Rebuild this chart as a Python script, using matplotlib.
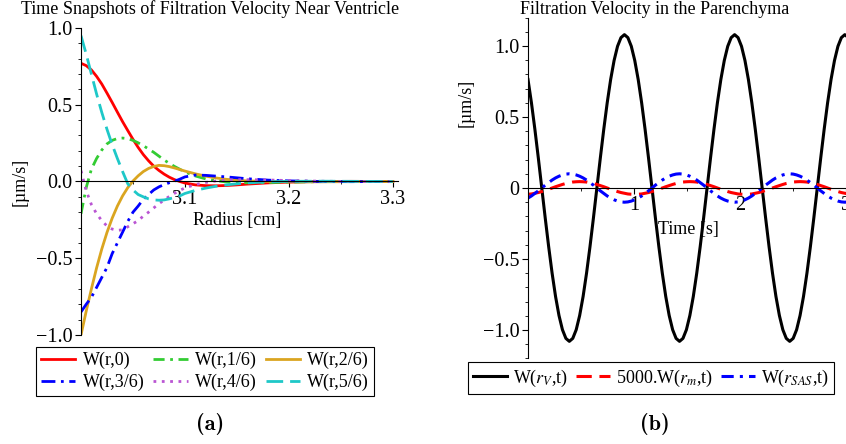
import numpy as np
import matplotlib
matplotlib.use('Agg')
import matplotlib.pyplot as plt
from matplotlib.ticker import MultipleLocator

plt.rcParams['font.family'] = 'Liberation Serif'
plt.rcParams['mathtext.fontset'] = 'stix'

# ---- (a) snapshots near the ventricle, W(r, t) ----
radius = [3.000, 3.005, 3.010, 3.015, 3.020, 3.025, 3.030, 3.035, 3.040, 3.045,
          3.050, 3.055, 3.060, 3.065, 3.070, 3.075, 3.080, 3.085, 3.090, 3.095,
          3.100, 3.110, 3.120, 3.130, 3.140, 3.150, 3.160, 3.180, 3.200, 3.230,
          3.260, 3.300]
w_0 = [0.770, 0.755, 0.727, 0.685, 0.635, 0.576, 0.515, 0.452, 0.390, 0.332,
       0.275, 0.222, 0.175, 0.135, 0.100, 0.072, 0.048, 0.028, 0.012, 0.000,
       -0.010, -0.022, -0.027, -0.028, -0.026, -0.022, -0.017, -0.009, -0.004, 0.000,
       0.001, 0.000]
w_1 = [-0.210, -0.040, 0.080, 0.150, 0.205, 0.245, 0.268, 0.280, 0.283, 0.279,
       0.268, 0.252, 0.233, 0.212, 0.190, 0.165, 0.140, 0.118, 0.098, 0.080,
       0.062, 0.036, 0.017, 0.005, -0.003, -0.007, -0.008, -0.007, -0.004, -0.001,
       0.000, 0.000]
w_2 = [-1.000, -0.845, -0.700, -0.563, -0.440, -0.332, -0.239, -0.160, -0.094, -0.040,
       0.003, 0.037, 0.065, 0.085, 0.098, 0.105, 0.103, 0.097, 0.088, 0.078,
       0.068, 0.050, 0.035, 0.023, 0.014, 0.008, 0.004, 0.000, -0.002, -0.002,
       -0.001, 0.000]
w_3 = [-0.850, -0.800, -0.755, -0.690, -0.625, -0.560, -0.470, -0.400, -0.330, -0.260,
       -0.200, -0.160, -0.115, -0.085, -0.055, -0.035, -0.020, -0.008, 0.002, 0.015,
       0.030, 0.042, 0.040, 0.035, 0.030, 0.024, 0.018, 0.009, 0.004, 0.000,
       -0.001, 0.000]
w_4 = [0.070, -0.060, -0.150, -0.210, -0.255, -0.290, -0.310, -0.318, -0.315, -0.295,
       -0.275, -0.255, -0.225, -0.200, -0.172, -0.145, -0.120, -0.097, -0.077, -0.058,
       -0.042, -0.020, -0.006, 0.004, 0.010, 0.012, 0.012, 0.010, 0.006, 0.002,
       0.000, -0.001]
w_5 = [0.950, 0.830, 0.700, 0.570, 0.450, 0.340, 0.240, 0.150, 0.065, -0.015,
       -0.055, -0.085, -0.100, -0.113, -0.120, -0.122, -0.120, -0.113, -0.104, -0.094,
       -0.078, -0.058, -0.043, -0.031, -0.022, -0.015, -0.009, -0.002, 0.001, 0.002,
       0.001, 0.000]
snap_labels = ['W(r,0)', 'W(r,1/6)', 'W(r,2/6)', 'W(r,3/6)', 'W(r,4/6)', 'W(r,5/6)']

# ---- (b) velocity over time, sampled every 0.0325 s ----
dt = 0.0325
w_rv = [0.764, 0.600, 0.413, 0.211, 0.000, -0.211, -0.413, -0.600, -0.764, -0.898, -0.998, -1.059, -1.080, -1.059, -0.998, -0.898,
        -0.764, -0.600, -0.413, -0.211, 0.000, 0.211, 0.413, 0.600, 0.764, 0.898, 0.998, 1.059, 1.080, 1.059, 0.998, 0.898,
        0.764, 0.600, 0.413, 0.211, 0.000, -0.211, -0.413, -0.600, -0.764, -0.898, -0.998, -1.059, -1.080, -1.059, -0.998, -0.898,
        -0.764, -0.600, -0.413, -0.211, 0.000, 0.211, 0.413, 0.600, 0.764, 0.898, 0.998, 1.059, 1.080, 1.059, 0.998, 0.898,
        0.764, 0.600, 0.413, 0.211, 0.000, -0.211, -0.413, -0.600, -0.764, -0.898, -0.998, -1.059, -1.080, -1.059, -0.998, -0.898,
        -0.764, -0.600, -0.413, -0.211, 0.000, 0.211, 0.413, 0.600, 0.764, 0.898, 0.998, 1.059, 1.080, 1.059]
w_rm = [-0.044, -0.042, -0.037, -0.032, -0.025, -0.017, -0.009, 0.000, 0.009, 0.017, 0.025, 0.032, 0.037, 0.042, 0.044, 0.045,
        0.044, 0.042, 0.037, 0.032, 0.025, 0.017, 0.009, 0.000, -0.009, -0.017, -0.025, -0.032, -0.037, -0.042, -0.044, -0.045,
        -0.044, -0.042, -0.037, -0.032, -0.025, -0.017, -0.009, 0.000, 0.009, 0.017, 0.025, 0.032, 0.037, 0.042, 0.044, 0.045,
        0.044, 0.042, 0.037, 0.032, 0.025, 0.017, 0.009, 0.000, -0.009, -0.017, -0.025, -0.032, -0.037, -0.042, -0.044, -0.045,
        -0.044, -0.042, -0.037, -0.032, -0.025, -0.017, -0.009, 0.000, 0.009, 0.017, 0.025, 0.032, 0.037, 0.042, 0.044, 0.045,
        0.044, 0.042, 0.037, 0.032, 0.025, 0.017, 0.009, 0.000, -0.009, -0.017, -0.025, -0.032, -0.037, -0.042]
w_sas = [-0.071, -0.056, -0.038, -0.020, 0.000, 0.020, 0.038, 0.056, 0.071, 0.083, 0.092, 0.098, 0.100, 0.098, 0.092, 0.083,
         0.071, 0.056, 0.038, 0.020, 0.000, -0.020, -0.038, -0.056, -0.071, -0.083, -0.092, -0.098, -0.100, -0.098, -0.092, -0.083,
         -0.071, -0.056, -0.038, -0.020, 0.000, 0.020, 0.038, 0.056, 0.071, 0.083, 0.092, 0.098, 0.100, 0.098, 0.092, 0.083,
         0.071, 0.056, 0.038, 0.020, 0.000, -0.020, -0.038, -0.056, -0.071, -0.083, -0.092, -0.098, -0.100, -0.098, -0.092, -0.083,
         -0.071, -0.056, -0.038, -0.020, 0.000, 0.020, 0.038, 0.056, 0.071, 0.083, 0.092, 0.098, 0.100, 0.098, 0.092, 0.083,
         0.071, 0.056, 0.038, 0.020, 0.000, -0.020, -0.038, -0.056, -0.071, -0.083, -0.092, -0.098, -0.100, -0.098]
t = np.arange(len(w_rv)) * dt
time_labels = [r'W($r_V$,t)', r'5000.W($r_m$,t)', r'W($r_{SAS}$,t)']

FS = 13
TFS = 14.5
W, H = 846, 444


def maple_axes(ax):
    ax.spines['top'].set_visible(False)
    ax.spines['right'].set_visible(False)
    ax.spines['bottom'].set_position(('data', 0))
    ax.spines['bottom'].set_linewidth(0.8)
    ax.spines['left'].set_linewidth(0.8)
    ax.tick_params(which='major', direction='out', length=4, width=0.8, labelsize=TFS, pad=2)
    ax.tick_params(which='minor', direction='out', length=2.5, width=0.6)
    ax.patch.set_alpha(0)


fig = plt.figure(figsize=(W / 100, H / 100), dpi=100)

# panel (a)
ax1 = fig.add_axes([81 / W, 1 - 335 / H, 317 / W, 307 / H])
maple_axes(ax1)
lines1 = [
    ax1.plot(radius, w_0, color='#ff0000', lw=2.0)[0],
    ax1.plot(radius, w_1, color='#33cc33', lw=2.0, dashes=(4, 2, 1, 2))[0],
    ax1.plot(radius, w_2, color='#daa520', lw=2.0)[0],
    ax1.plot(radius, w_3, color='#0000ff', lw=2.0, dashes=(5, 2, 1, 2))[0],
    ax1.plot(radius, w_4, color='#ba55d3', lw=2.0, dashes=(1, 2))[0],
    ax1.plot(radius, w_5, color='#1ec8c8', lw=2.0, dashes=(6, 2.5))[0],
]
ax1.set_xlim(3.0, 3.305)
ax1.set_ylim(-1.0, 1.0)
ax1.set_xticks([3.1, 3.2, 3.3])
ax1.set_xticklabels(['3.1', '3.2', '3.3'])
ax1.xaxis.set_minor_locator(MultipleLocator(0.05))
ax1.set_yticks([-1.0, -0.5, 0.0, 0.5, 1.0])
ax1.set_yticklabels(['\u22121.0', '\u22120.5', '0.0', '0.5', '1.0'])
ax1.yaxis.set_minor_locator(MultipleLocator(0.1))
ax1.text(3.15, -0.255, 'Radius [cm]', fontsize=FS, ha='center', va='center')
# legend filled row by row, as in the original
order = [0, 3, 1, 4, 2, 5]
leg1 = ax1.legend([lines1[i] for i in order], [snap_labels[i] for i in order],
                  loc='center', bbox_to_anchor=(205 / W, 1 - 371.5 / H), bbox_transform=fig.transFigure,
                  ncol=3, fontsize=FS, fancybox=False, edgecolor='black', framealpha=1,
                  handlelength=1.9, handletextpad=0.4, columnspacing=0.5, labelspacing=0.25,
                  borderpad=0.3)
leg1.get_frame().set_linewidth(0.8)

# panel (b)
ax2 = fig.add_axes([528 / W, 1 - 358.4 / H, 320 / W, 340.8 / H])
maple_axes(ax2)
ax2.plot(t, w_rv, color='black', lw=2.2, label=time_labels[0])
ax2.plot(t, w_rm, color='#ff0000', lw=2.2, dashes=(5, 2.5), label=time_labels[1])
ax2.plot(t, w_sas, color='#0000ff', lw=2.2, dashes=(4, 2, 1, 2), label=time_labels[2])
ax2.set_xlim(0, 3.02)
ax2.set_ylim(-1.2, 1.2)
ax2.set_xticks([1, 2, 3])
ax2.set_xticklabels(['1', '2', '3'])
ax2.xaxis.set_minor_locator(MultipleLocator(0.5))
ax2.set_yticks([-1.0, -0.5, 0.0, 0.5, 1.0])
ax2.set_yticklabels(['\u22121.0', '\u22120.5', '0', '0.5', '1.0'])
ax2.yaxis.set_minor_locator(MultipleLocator(0.1))
ax2.text(1.51, -0.289, 'Time [s]', fontsize=FS, ha='center', va='center')
leg2 = ax2.legend(loc='center', bbox_to_anchor=(650.8 / W, 1 - 378.3 / H), bbox_transform=fig.transFigure,
                  ncol=3, fontsize=FS, fancybox=False, edgecolor='black', framealpha=1,
                  handlelength=1.9, handletextpad=0.3, columnspacing=0.45, borderpad=0.3)
leg2.get_frame().set_linewidth(0.8)

# titles, axis labels and sub-captions
fig.text(210 / W, 1 - 9 / H, 'Time Snapshots of Filtration Velocity Near Ventricle',
         fontsize=FS, ha='center', va='center')
fig.text(655 / W, 1 - 9 / H, 'Filtration Velocity in the Parenchyma',
         fontsize=FS, ha='center', va='center')
fig.text(20 / W, 1 - 182 / H, '[\u00b5m/s]', fontsize=FS, rotation=90, ha='center', va='center')
fig.text(466 / W, 1 - 103 / H, '[\u00b5m/s]', fontsize=FS, rotation=90, ha='center', va='center')
fig.text(210 / W, 1 - 424 / H, '(a)', family='cmb10', fontsize=16,
         ha='center', va='center')
fig.text(655 / W, 1 - 424 / H, '(b)', family='cmb10', fontsize=16,
         ha='center', va='center')

fig.savefig('out.png', dpi=100)
